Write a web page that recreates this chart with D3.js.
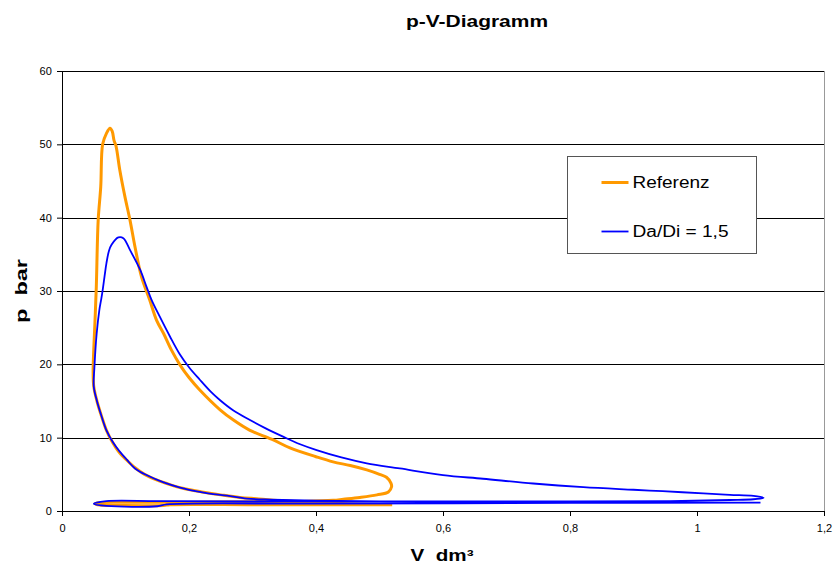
<!DOCTYPE html>
<html>
<head>
<meta charset="utf-8">
<script src="https://cdn.jsdelivr.net/npm/d3@7/dist/d3.min.js"></script>
<style>
  body { margin: 0; background: #fff; }
  text { font-family: "Liberation Sans", Arial, sans-serif; fill: #000; }
  .grid line { stroke: #000; stroke-width: 1; }
  .axis path, .axis line { stroke: #000; }
</style>
</head>
<body>
<div id="chart"></div>
<script>
// p-V data: [V in dm³, p in bar], cycle order
var referenz = [
  [0.52,0.85],[0.45,1.0],[0.40,1.15],[0.35,1.35],[0.31,1.65],[0.28,1.85],[0.25,2.2],[0.22,2.6],
  [0.19,3.1],[0.17,3.6],[0.15,4.2],[0.13,5.0],[0.115,5.9],[0.10,7.1],[0.09,8.0],[0.08,9.3],
  [0.07,11.0],[0.062,13.0],[0.055,15.0],[0.05,17.0],[0.049,19],[0.050,22],[0.052,26],[0.054,30.5],
  [0.057,39.7],[0.061,44.2],[0.064,50],[0.070,51.5],[0.0756,52.2],[0.079,51.8],[0.082,50.5],
  [0.085,49.8],[0.091,46.5],[0.099,42.9],[0.107,39.7],[0.115,36],[0.125,32],[0.138,28.8],
  [0.149,26],[0.16,24.2],[0.172,22],[0.186,19.9],[0.2,18.2],[0.217,16.5],[0.249,13.8],[0.27,12.4],
  [0.296,11],[0.33,9.8],[0.359,8.6],[0.40,7.4],[0.427,6.7],[0.454,6.2],[0.48,5.6],[0.5,5.0],
  [0.511,4.6],[0.518,3.8],[0.519,3.3],[0.514,2.6],[0.496,2.2],[0.469,1.85],[0.443,1.6],
  [0.427,1.45],[0.38,1.3],[0.3,1.25],[0.2,1.2],[0.1,1.2],[0.06,1.15],[0.052,1.0],[0.06,0.8],
  [0.09,0.75],[0.16,0.75],[0.17,0.85],[0.3,0.85],[0.4,0.85],[0.52,0.85]
];

var daDi15 = [
  [1.10,1.15],[0.9,1.2],[0.7,1.25],[0.5,1.3],[0.4,1.4],[0.33,1.55],[0.291,1.7],[0.26,2.1],
  [0.238,2.3],[0.217,2.6],[0.186,3.2],[0.16,3.9],[0.133,4.9],[0.115,5.8],[0.102,7.0],[0.09,8.2],
  [0.08,9.4],[0.07,11],[0.062,13],[0.055,15],[0.05,17],[0.051,19.5],[0.0546,24.2],[0.0588,27.4],
  [0.062,29],[0.064,30.1],[0.067,32],[0.070,33.8],[0.074,35.5],[0.078,36.3],[0.0887,37.3],
  [0.0966,37.2],[0.107,35.6],[0.123,32.9],[0.133,30.6],[0.141,28.8],[0.154,26.5],[0.170,23.8],
  [0.186,21.3],[0.2,19.6],[0.217,17.9],[0.235,16.2],[0.249,15.1],[0.27,13.7],[0.296,12.4],
  [0.32,11.3],[0.349,10.1],[0.375,9.1],[0.401,8.3],[0.44,7.3],[0.48,6.5],[0.532,5.8],[0.6,4.9],
  [0.663,4.4],[0.742,3.75],[0.821,3.25],[0.9,2.9],[0.946,2.7],[1.01,2.4],[1.052,2.2],
  [1.089,2.05],[1.105,1.8],[1.089,1.6],[1.052,1.5],[0.957,1.36],[0.8,1.3],[0.5,1.3],[0.3,1.3],
  [0.15,1.35],[0.07,1.35],[0.05,1.0],[0.07,0.7],[0.15,0.65],[0.165,0.9],[0.4,1.0],[0.8,1.1],
  [1.10,1.15]
];

var xTicks = [0, 0.2, 0.4, 0.6, 0.8, 1, 1.2];
var yTicks = [0, 10, 20, 30, 40, 50, 60];
var seriesNames = ["Referenz", "Da/Di = 1,5"];
var seriesColors = ["#ff9900", "#0000ff"];

var width = 837, height = 569;
var margin = {top: 71, right: 13, bottom: 58, left: 62};
var plotW = width - margin.left - margin.right;
var plotH = height - margin.top - margin.bottom;

var svg = d3.select("#chart").append("svg")
    .attr("width", width)
    .attr("height", height);

var x = d3.scaleLinear().domain([0, 1.2]).range([0, plotW]);
var y = d3.scaleLinear().domain([0, 60]).range([plotH, 0]);
var comma = function(d) { return String(d).replace(".", ","); };

var g = svg.append("g").attr("transform", "translate(" + margin.left + "," + margin.top + ")");

// plot area border on the right
g.append("line")
    .attr("x1", plotW + 0.5).attr("x2", plotW + 0.5)
    .attr("y1", 0).attr("y2", plotH)
    .attr("stroke", "#999").attr("stroke-width", 1);

// horizontal gridlines
g.append("g").attr("class", "grid")
  .selectAll("line")
  .data(yTicks.filter(function(d) { return d > 0; }))
  .enter().append("line")
    .attr("x1", 0).attr("x2", plotW)
    .attr("y1", function(d) { return Math.round(y(d)) + 0.5; })
    .attr("y2", function(d) { return Math.round(y(d)) + 0.5; });

// axes
g.append("g").attr("class", "axis")
    .attr("transform", "translate(0," + plotH + ")")
    .call(d3.axisBottom(x).tickValues(xTicks).tickFormat(comma).tickSize(5).tickSizeOuter(0))
    .call(function(a) { a.selectAll("text").attr("dy", "1.2em").style("font-size", "11px"); });

g.append("g").attr("class", "axis")
    .call(d3.axisLeft(y).tickValues(yTicks).tickSize(5).tickSizeOuter(0))
    .call(function(a) { a.selectAll("text").attr("dx", "-0.2em").style("font-size", "11px"); });

// curves
var line = d3.line()
    .x(function(d) { return x(d[0]); })
    .y(function(d) { return y(d[1]); })
    .curve(d3.curveCatmullRom.alpha(0.5));

g.append("path")
    .datum(referenz)
    .attr("d", line)
    .attr("fill", "none")
    .attr("stroke", seriesColors[0])
    .attr("stroke-width", 3)
    .attr("stroke-linejoin", "round");

g.append("path")
    .datum(daDi15)
    .attr("d", line)
    .attr("fill", "none")
    .attr("stroke", seriesColors[1])
    .attr("stroke-width", 1.8)
    .attr("stroke-linejoin", "round");

// title and axis titles (the original glyphs are drawn wider than Arial)
svg.append("text")
    .attr("x", 477).attr("y", 27)
    .attr("text-anchor", "middle")
    .attr("textLength", 142).attr("lengthAdjust", "spacingAndGlyphs")
    .style("font-size", "16px").style("font-weight", "bold")
    .text("p-V-Diagramm");

svg.append("text")
    .attr("x", 442).attr("y", 561)
    .attr("text-anchor", "middle")
    .attr("textLength", 63).attr("lengthAdjust", "spacingAndGlyphs")
    .style("font-size", "16px").style("font-weight", "bold")
    .attr("xml:space", "preserve")
    .text("V  dm³");

svg.append("text")
    .attr("transform", "translate(27,291) rotate(-90)")
    .attr("text-anchor", "middle")
    .attr("textLength", 64).attr("lengthAdjust", "spacingAndGlyphs")
    .style("font-size", "16px").style("font-weight", "bold")
    .attr("xml:space", "preserve")
    .text("p  bar");

// legend
var legend = svg.append("g").attr("transform", "translate(567.5,156.5)");
legend.append("rect")
    .attr("width", 189).attr("height", 97)
    .attr("fill", "#fff").attr("stroke", "#555").attr("stroke-width", 1);

var item = legend.selectAll(".item")
    .data(seriesNames)
    .enter().append("g")
    .attr("transform", function(d, i) { return "translate(0," + (26 + i * 49) + ")"; });

item.append("line")
    .attr("x1", 34).attr("x2", 61)
    .attr("stroke", function(d, i) { return seriesColors[i]; })
    .attr("stroke-width", function(d, i) { return i === 0 ? 3 : 1.8; });

item.append("text")
    .attr("x", 65).attr("dy", "0.35em")
    .attr("textLength", function(d, i) { return i === 0 ? 77 : 96; })
    .attr("lengthAdjust", "spacingAndGlyphs")
    .style("font-size", "16px")
    .text(function(d) { return d; });
</script>
</body>
</html>
